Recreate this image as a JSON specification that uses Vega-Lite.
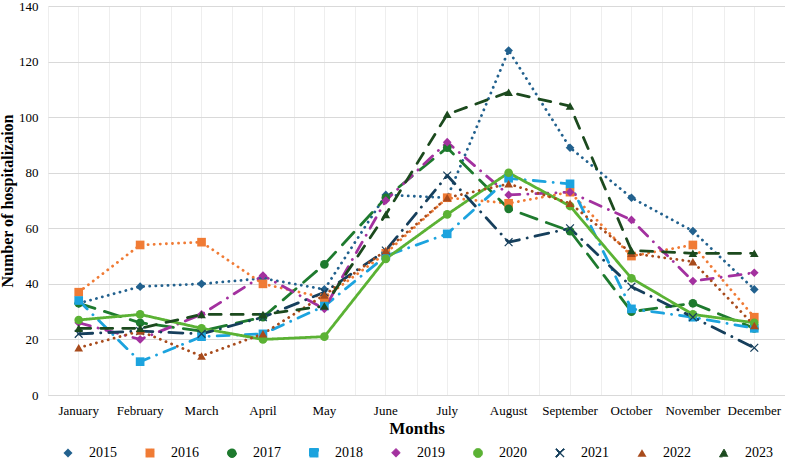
{
  "$schema": "https://vega.github.io/schema/vega-lite/v6.json",
  "autosize": {"type": "none"},
  "width": 737,
  "height": 389,
  "padding": {"left": 48, "top": 6, "right": 0, "bottom": 78},
  "background": "white",
  "config": {
    "view": {"stroke": null},
    "font": "Liberation Serif",
    "legend": {"layout": {"bottom": {"anchor": "middle"}}}
  },
  "datasets": {
    "hosp": [
      {"year": "2015", "month": "January", "value": 33}, {"year": "2015", "month": "February", "value": 39}, {"year": "2015", "month": "March", "value": 40}, {"year": "2015", "month": "April", "value": 42}, {"year": "2015", "month": "May", "value": 38}, {"year": "2015", "month": "June", "value": 72}, {"year": "2015", "month": "July", "value": 71}, {"year": "2015", "month": "August", "value": 124}, {"year": "2015", "month": "September", "value": 89}, {"year": "2015", "month": "October", "value": 71}, {"year": "2015", "month": "November", "value": 59}, {"year": "2015", "month": "December", "value": 38},
      {"year": "2016", "month": "January", "value": 37}, {"year": "2016", "month": "February", "value": 54}, {"year": "2016", "month": "March", "value": 55}, {"year": "2016", "month": "April", "value": 40}, {"year": "2016", "month": "May", "value": 35}, {"year": "2016", "month": "June", "value": 51}, {"year": "2016", "month": "July", "value": 71}, {"year": "2016", "month": "August", "value": 69}, {"year": "2016", "month": "September", "value": 73}, {"year": "2016", "month": "October", "value": 50}, {"year": "2016", "month": "November", "value": 54}, {"year": "2016", "month": "December", "value": 28},
      {"year": "2017", "month": "January", "value": 33}, {"year": "2017", "month": "February", "value": 26}, {"year": "2017", "month": "March", "value": 23}, {"year": "2017", "month": "April", "value": 28}, {"year": "2017", "month": "May", "value": 47}, {"year": "2017", "month": "June", "value": 71}, {"year": "2017", "month": "July", "value": 89}, {"year": "2017", "month": "August", "value": 67}, {"year": "2017", "month": "September", "value": 59}, {"year": "2017", "month": "October", "value": 30}, {"year": "2017", "month": "November", "value": 33}, {"year": "2017", "month": "December", "value": 24},
      {"year": "2018", "month": "January", "value": 34}, {"year": "2018", "month": "February", "value": 12}, {"year": "2018", "month": "March", "value": 21}, {"year": "2018", "month": "April", "value": 22}, {"year": "2018", "month": "May", "value": 32}, {"year": "2018", "month": "June", "value": 50}, {"year": "2018", "month": "July", "value": 58}, {"year": "2018", "month": "August", "value": 78}, {"year": "2018", "month": "September", "value": 76}, {"year": "2018", "month": "October", "value": 31}, {"year": "2018", "month": "November", "value": 28}, {"year": "2018", "month": "December", "value": 24},
      {"year": "2019", "month": "January", "value": 26}, {"year": "2019", "month": "February", "value": 20}, {"year": "2019", "month": "March", "value": 29}, {"year": "2019", "month": "April", "value": 43}, {"year": "2019", "month": "May", "value": 31}, {"year": "2019", "month": "June", "value": 70}, {"year": "2019", "month": "July", "value": 91}, {"year": "2019", "month": "August", "value": 72}, {"year": "2019", "month": "September", "value": 73}, {"year": "2019", "month": "October", "value": 63}, {"year": "2019", "month": "November", "value": 41}, {"year": "2019", "month": "December", "value": 44},
      {"year": "2020", "month": "January", "value": 27}, {"year": "2020", "month": "February", "value": 29}, {"year": "2020", "month": "March", "value": 24}, {"year": "2020", "month": "April", "value": 20}, {"year": "2020", "month": "May", "value": 21}, {"year": "2020", "month": "June", "value": 49}, {"year": "2020", "month": "July", "value": 65}, {"year": "2020", "month": "August", "value": 80}, {"year": "2020", "month": "September", "value": 68}, {"year": "2020", "month": "October", "value": 42}, {"year": "2020", "month": "November", "value": 29}, {"year": "2020", "month": "December", "value": 26},
      {"year": "2021", "month": "January", "value": 22}, {"year": "2021", "month": "February", "value": 23}, {"year": "2021", "month": "March", "value": 22}, {"year": "2021", "month": "April", "value": 28}, {"year": "2021", "month": "May", "value": 37}, {"year": "2021", "month": "June", "value": 52}, {"year": "2021", "month": "July", "value": 79}, {"year": "2021", "month": "August", "value": 55}, {"year": "2021", "month": "September", "value": 60}, {"year": "2021", "month": "October", "value": 39}, {"year": "2021", "month": "November", "value": 28}, {"year": "2021", "month": "December", "value": 17},
      {"year": "2022", "month": "January", "value": 17}, {"year": "2022", "month": "February", "value": 23}, {"year": "2022", "month": "March", "value": 14}, {"year": "2022", "month": "April", "value": 22}, {"year": "2022", "month": "May", "value": 36}, {"year": "2022", "month": "June", "value": 52}, {"year": "2022", "month": "July", "value": 71}, {"year": "2022", "month": "August", "value": 76}, {"year": "2022", "month": "September", "value": 69}, {"year": "2022", "month": "October", "value": 51}, {"year": "2022", "month": "November", "value": 48}, {"year": "2022", "month": "December", "value": 25},
      {"year": "2023", "month": "January", "value": 24}, {"year": "2023", "month": "February", "value": 24}, {"year": "2023", "month": "March", "value": 29}, {"year": "2023", "month": "April", "value": 29}, {"year": "2023", "month": "May", "value": 32}, {"year": "2023", "month": "June", "value": 65}, {"year": "2023", "month": "July", "value": 101}, {"year": "2023", "month": "August", "value": 109}, {"year": "2023", "month": "September", "value": 104}, {"year": "2023", "month": "October", "value": 52}, {"year": "2023", "month": "November", "value": 51}, {"year": "2023", "month": "December", "value": 51}
    ]
  },
  "data": {"name": "hosp"},
  "resolve": {"axis": {"x": "independent"}},
  "layer": [
    {
      "mark": {"type": "line", "strokeWidth": 2.8, "strokeCap": "round", "strokeJoin": "round"},
      "encoding": {
        "x": {
          "field": "month", "type": "nominal", "sort": null,
          "scale": {"type": "band", "paddingInner": 0, "paddingOuter": 0},
          "axis": {
            "title": "Months", "titleFont": "Liberation Serif", "titleFontWeight": "bold", "titleFontSize": 17, "titleColor": "#000000", "titlePadding": 3,
            "labelFont": "Liberation Serif", "labelFontSize": 13, "labelColor": "#000000", "labelAngle": 0, "labelPadding": 9,
            "ticks": false, "domain": true, "domainColor": "#d9d9d9",
            "grid": true, "gridColor": "#eeeeee", "gridWidth": 1
          }
        },
        "y": {
          "field": "value", "type": "quantitative",
          "scale": {"domain": [0, 140], "nice": false},
          "axis": {
            "values": [0, 20, 40, 60, 80, 100, 120, 140],
            "title": "Number of hospitalizaion", "titleFont": "Liberation Serif", "titleFontWeight": "bold", "titleFontSize": 16, "titleColor": "#000000", "titlePadding": 3,
            "labelFont": "Liberation Serif", "labelFontSize": 13, "labelColor": "#000000", "labelPadding": 10,
            "ticks": false, "domain": false,
            "grid": true, "gridColor": "#d9d9d9", "gridWidth": 1
          }
        },
        "color": {
          "field": "year", "type": "nominal",
          "scale": {
            "domain": ["2015", "2016", "2017", "2018", "2019", "2020", "2021", "2022", "2023"],
            "range": ["#22618E", "#F07B35", "#1E7A2E", "#1CA3DE", "#A3319F", "#5BB234", "#163F5C", "#A84B1C", "#1C4A1E"]
          },
          "legend": {
            "title": null, "orient": "bottom", "direction": "horizontal", "columns": 9,
            "symbolSize": 80, "symbolStrokeWidth": 1,
            "labelFont": "Liberation Serif", "labelFontSize": 14, "labelColor": "#000000",
            "columnPadding": 26, "labelOffset": 14, "offset": 10
          }
        },
        "strokeDash": {
          "field": "year", "type": "nominal",
          "scale": {
            "domain": ["2015", "2016", "2017", "2018", "2019", "2020", "2021", "2022", "2023"],
            "range": [[0.1, 6], [0.1, 6], [17, 10], [12, 8, 0.1, 8], [12, 8, 0.1, 8], [1, 0], [14, 8, 0.1, 8], [0.1, 6], [12, 10]]
          }
        }
      }
    },
    {
      "transform": [{"calculate": "datum.year", "as": "series"}],
      "mark": {"type": "point", "filled": true, "size": 75, "opacity": 1, "strokeWidth": 0},
      "encoding": {
        "x": {
          "field": "month", "type": "nominal", "sort": null,
          "axis": {"title": null, "labels": false, "ticks": false, "domain": false, "grid": true, "tickBand": "extent", "gridColor": "#eeeeee", "gridWidth": 1}
        },
        "y": {"field": "value", "type": "quantitative"},
        "fill": {
          "field": "series", "type": "nominal",
          "scale": {
            "domain": ["2015", "2016", "2017", "2018", "2019", "2020", "2021", "2022", "2023"],
            "range": ["#22618E", "#F07B35", "#1E7A2E", "#1CA3DE", "#A3319F", "#5BB234", "#163F5C", "#A84B1C", "#1C4A1E"]
          },
          "legend": null
        },
        "shape": {
          "field": "series", "type": "nominal",
          "scale": {
            "domain": ["2015", "2016", "2017", "2018", "2019", "2020", "2021", "2022", "2023"],
            "range": ["diamond", "square", "circle", "square", "diamond", "circle", "M-1,-0.8L-0.8,-1L0,-0.2L0.8,-1L1,-0.8L0.2,0L1,0.8L0.8,1L0,0.2L-0.8,1L-1,0.8L-0.2,0Z", "triangle-up", "triangle-up"]
          },
          "legend": null
        }
      }
    }
  ]
}
